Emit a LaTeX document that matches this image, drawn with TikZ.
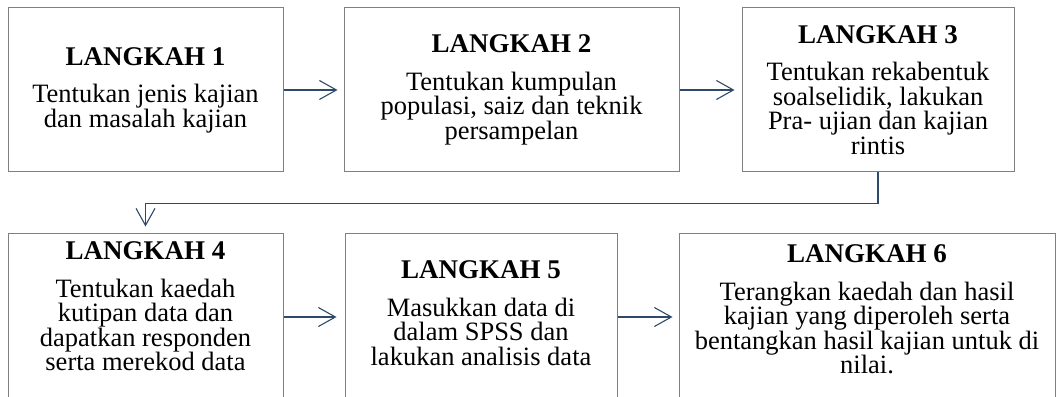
\documentclass[tikz,border=0pt]{standalone}
\usepackage{fontspec}
\setmainfont{Liberation Serif}
\usetikzlibrary{positioning,arrows.meta}
\definecolor{panah}{HTML}{2E4A6B}
\newcommand{\tajuk}[1]{{\bfseries\fontsize{27}{24}\selectfont #1}\\[13pt]}

\begin{document}
\begin{tikzpicture}[x=1pt,y=1pt,
	langkah/.style={draw=black!50,line width=1pt,fill=white},
	isi/.style={align=center,inner sep=0pt,font=\fontsize{26.5}{24.5}\selectfont},
	aliran/.style={draw=panah,line width=1.1pt,-{Straight Barb[length=17pt,width=19pt]}}]
	\useasboundingbox (0,0) rectangle (1056,396);
	\clip (0,0) rectangle (1056,396);

	\node[langkah,minimum width=275pt,minimum height=164pt] (b1) at (145.5,306) {};
	\node[langkah,minimum width=335pt,minimum height=164pt] (b2) at (511.5,306) {};
	\node[langkah,minimum width=272pt,minimum height=164pt] (b3) at (878,306)   {};
	\node[langkah,minimum width=275pt,minimum height=186pt] (b4) at (145.5,69)  {};
	\node[langkah,minimum width=272pt,minimum height=186pt] (b5) at (481,69)    {};
	\node[langkah,minimum width=376pt,minimum height=186pt] (b6) at (867,69)    {};

	\node[isi] (t1) at (b1) {\tajuk{LANGKAH 1}Tentukan jenis kajian\\dan masalah kajian};
	\node[isi] (t2) at (b2) {\tajuk{LANGKAH 2}Tentukan kumpulan\\populasi, saiz dan teknik\\persampelan};
	\node[isi] (t3) at (b3) {\tajuk{LANGKAH 3}Tentukan rekabentuk\\soalselidik, lakukan\\Pra- ujian dan kajian\\rintis};
	\node[isi,below=8pt of b4.north]  (t4) {\tajuk{LANGKAH 4}Tentukan kaedah\\kutipan data dan\\dapatkan responden\\serta merekod data};
	\node[isi,below=27pt of b5.north] (t5) {\tajuk{LANGKAH 5}Masukkan data di\\dalam SPSS dan\\lakukan analisis data};
	\node[isi,below=11pt of b6.north] (t6) {\tajuk{LANGKAH 6}Terangkan kaedah dan hasil\\kajian yang diperoleh serta\\bentangkan hasil kajian untuk di\\nilai.};

	\draw[aliran,shorten >=6pt] (b1) -- (b2);
	\draw[aliran,shorten >=7pt] (b2) -- (b3);
	\draw[aliran,shorten >=7pt] (b3.south) -- ++(0,-31) -| (b4.north);
	\draw[aliran,shorten >=8pt] ([yshift=10pt]b4.east) -- ([yshift=10pt]b5.west);
	\draw[aliran,shorten >=6pt] ([yshift=10pt]b5.east) -- ([yshift=10pt]b6.west);
\end{tikzpicture}
\end{document}
